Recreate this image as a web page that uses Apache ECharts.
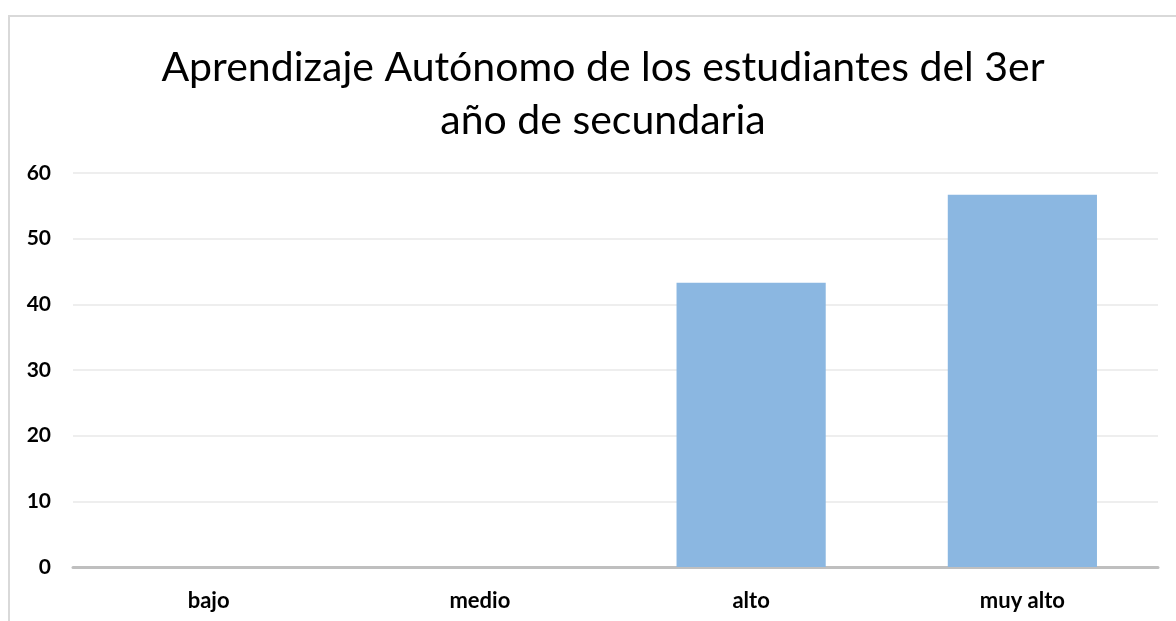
<!DOCTYPE html>
<html>
<head>
<meta charset="utf-8">
<script src="https://cdn.jsdelivr.net/npm/echarts@6/dist/echarts.min.js"></script>
<style>
  html, body { margin: 0; padding: 0; background: #fff; }
  #frame { position: absolute; left: 8px; top: 15px; width: 1200px; height: 640px; border: 2px solid #d9d9d9; box-sizing: border-box; }
  #main { position: absolute; left: 0; top: 0; width: 1176px; height: 621px; }
</style>
</head>
<body>
<div id="frame"></div>
<div id="main"></div>
<script>
// datos del gráfico
const categorias = ['bajo', 'medio', 'alto', 'muy alto']
const valores = [0, 0, 43.3, 56.7]
const titulo = 'Aprendizaje Autónomo de los estudiantes del 3er\naño de secundaria'

const chart = echarts.init(document.getElementById('main'))

const option = {
  animation: false,
  title: {
    text: titulo,
    left: 598,
    textAlign: 'center',
    top: 36,
    textStyle: {
      fontFamily: 'Lato',
      fontWeight: 'normal',
      fontSize: 41,
      lineHeight: 53,
      color: '#000'
    }
  },
  grid: {
    left: 73,
    right: 18,
    top: 173,
    bottom: 54
  },
  xAxis: {
    type: 'category',
    data: categorias,
    axisLine: { lineStyle: { color: '#bfbfbf', width: 3 } },
    axisTick: { show: false },
    axisLabel: {
      margin: 23,
      fontFamily: 'Lato',
      fontWeight: 'bold',
      fontSize: 22,
      color: '#000'
    }
  },
  yAxis: {
    type: 'value',
    min: 0,
    max: 60,
    interval: 10,
    axisLine: { show: false },
    axisTick: { show: false },
    splitLine: { lineStyle: { color: '#eeeeee', width: 2 } },
    axisLabel: {
      margin: 22,
      fontFamily: 'Lato',
      fontWeight: 'bold',
      fontSize: 21,
      color: '#000'
    }
  },
  series: [
    {
      type: 'bar',
      data: valores,
      barWidth: '55%',
      itemStyle: { color: '#8bb7e1' }
    }
  ]
}

chart.setOption(option)
</script>
</body>
</html>
